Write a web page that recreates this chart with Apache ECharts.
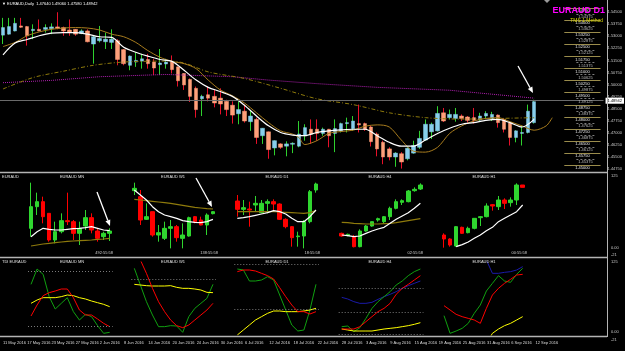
<!DOCTYPE html>
<html><head><meta charset="utf-8">
<script src="https://cdn.jsdelivr.net/npm/echarts@6/dist/echarts.min.js"></script>
<style>html,body{margin:0;padding:0;background:#000}#c{width:625px;height:351px}</style>
</head><body><div id="c"></div>
<script>
// ---------- DATA ----------
const xTickLabels = ['11 May 2016','17 May 2016','23 May 2016','27 May 2016','2 Jun 2016','8 Jun 2016','14 Jun 2016','20 Jun 2016','24 Jun 2016','30 Jun 2016','6 Jul 2016','12 Jul 2016','18 Jul 2016','22 Jul 2016','28 Jul 2016','3 Aug 2016','9 Aug 2016','15 Aug 2016','19 Aug 2016','25 Aug 2016','31 Aug 2016','6 Sep 2016','12 Sep 2016'];
// daily candles [open, close, low, high]
const mainCandles = [
[1.5307,1.5354,1.5252,1.5414],[1.5313,1.5360,1.5310,1.5414],[1.5333,1.5380,1.5330,1.5414],[1.5364,1.5356,1.5352,1.5414],
[1.5360,1.5303,1.5242,1.5364],[1.5335,1.5343,1.5282,1.5374],[1.5343,1.5333,1.5331,1.5404],[1.5343,1.5354,1.5323,1.5374],
[1.5347,1.5358,1.5313,1.5380],[1.5358,1.5349,1.5343,1.5449],[1.5354,1.5333,1.5303,1.5360],[1.5339,1.5327,1.5303,1.5404],
[1.5343,1.5313,1.5303,1.5345],[1.5317,1.5333,1.5313,1.5343],[1.5333,1.5266,1.5262,1.5343],[1.5252,1.5297,1.5130,1.5303],
[1.5272,1.5286,1.5262,1.5364],[1.5266,1.5282,1.5221,1.5323],[1.5262,1.5282,1.5221,1.5343],[1.5272,1.5156,1.5120,1.5282],
[1.5217,1.5130,1.5120,1.5221],[1.5120,1.5177,1.5089,1.5181],[1.5140,1.5150,1.5110,1.5201],[1.5146,1.5160,1.5099,1.5191],
[1.5156,1.5130,1.5099,1.5191],[1.5140,1.5103,1.5059,1.5160],[1.5124,1.5134,1.5059,1.5221],[1.5128,1.5140,1.5099,1.5160],
[1.5140,1.5093,1.5069,1.5181],[1.5110,1.5024,1.4988,1.5112],[1.5069,1.4998,1.4967,1.5071],[1.5032,1.4927,1.4892,1.5038],
[1.4977,1.4845,1.4795,1.4988],[1.4912,1.4927,1.4805,1.4937],[1.4937,1.4916,1.4896,1.4988],[1.4927,1.4886,1.4859,1.4967],
[1.4916,1.4880,1.4815,1.4977],[1.4896,1.4845,1.4805,1.4906],[1.4872,1.4811,1.4758,1.4896],[1.4819,1.4845,1.4754,1.4896],
[1.4835,1.4774,1.4764,1.4876],[1.4770,1.4805,1.4713,1.4835],[1.4784,1.4672,1.4632,1.4795],[1.4683,1.4729,1.4632,1.4731],
[1.4707,1.4597,1.4540,1.4709],[1.4607,1.4652,1.4561,1.4654],[1.4632,1.4611,1.4601,1.4636],[1.4618,1.4632,1.4555,1.4648],
[1.4630,1.4636,1.4575,1.4642],[1.4618,1.4693,1.4611,1.4774],[1.4683,1.4733,1.4652,1.4754],[1.4723,1.4693,1.4632,1.4784],
[1.4723,1.4697,1.4652,1.4784],[1.4697,1.4723,1.4683,1.4733],[1.4723,1.4683,1.4611,1.4725],[1.4697,1.4727,1.4581,1.4784],
[1.4713,1.4758,1.4703,1.4764],[1.4758,1.4764,1.4703,1.4795],[1.4727,1.4774,1.4713,1.4805],[1.4758,1.4750,1.4703,1.4876],
[1.4758,1.4723,1.4713,1.4764],[1.4737,1.4646,1.4616,1.4744],[1.4693,1.4601,1.4555,1.4703],[1.4642,1.4551,1.4506,1.4652],
[1.4601,1.4551,1.4530,1.4611],[1.4551,1.4575,1.4490,1.4581],[1.4571,1.4520,1.4479,1.4581],[1.4540,1.4605,1.4530,1.4611],
[1.4575,1.4622,1.4571,1.4652],[1.4611,1.4666,1.4601,1.4713],[1.4656,1.4754,1.4652,1.4784],[1.4707,1.4754,1.4662,1.4764],
[1.4713,1.4821,1.4709,1.4866],[1.4825,1.4774,1.4768,1.4855],[1.4795,1.4815,1.4784,1.4845],[1.4790,1.4815,1.4770,1.4855],
[1.4805,1.4790,1.4774,1.4815],[1.4799,1.4778,1.4764,1.4805],[1.4795,1.4778,1.4758,1.4855],[1.4780,1.4805,1.4770,1.4825],
[1.4805,1.4821,1.4790,1.4835],[1.4784,1.4815,1.4774,1.4831],[1.4811,1.4764,1.4733,1.4815],[1.4784,1.4723,1.4703,1.4790],
[1.4764,1.4672,1.4622,1.4774],[1.4672,1.4713,1.4642,1.4717],[1.4697,1.4703,1.4622,1.4744],[1.4703,1.4835,1.4697,1.4876],
[1.47640,1.48942,1.47580,1.49060]];
// moving averages, [barIndex, price]
const maFast = [[0,1.5185],[2,1.5258],[4,1.5280],[6,1.5303],[8,1.5319],[10,1.5323],[12,1.5323],[14,1.5313],[16,1.5297],[18,1.5293],[20,1.5232],[22,1.5201],[24,1.5177],[26,1.5156],[28,1.5144],[30,1.5089],[32,1.5028],[34,1.4983],[36,1.4957],[38,1.4927],[40,1.4872],[42,1.4805],[44,1.4744],[46,1.4703],[48,1.4687],[50,1.4683],[52,1.4703],[54,1.4713],[56,1.4719],[58,1.4723],[60,1.4723],[62,1.4683],[64,1.4642],[66,1.4618],[68,1.4618],[70,1.4656],[72,1.4697],[74,1.4729],[76,1.4754],[78,1.4764],[80,1.4778],[82,1.4784],[84,1.4764],[86,1.4737],[88,1.4784]];
const maMid = [[0,1.5236],[2,1.5262],[4,1.5303],[6,1.5327],[8,1.5343],[10,1.5351],[12,1.5354],[14,1.5351],[16,1.5339],[18,1.5313],[20,1.5297],[22,1.5262],[24,1.5211],[26,1.5170],[28,1.5144],[30,1.5130],[32,1.5099],[34,1.5028],[36,1.4967],[38,1.4931],[40,1.4886],[42,1.4825],[44,1.4764],[46,1.4713],[48,1.4693],[49,1.4672],[50,1.4628],[52,1.4652],[54,1.4697],[56,1.4709],[58,1.4717],[60,1.4742],[62,1.4750],[64,1.4737],[66,1.4656],[68,1.4587],[70,1.4581],[72,1.4611],[74,1.4697],[76,1.4744],[78,1.4774],[80,1.4790],[82,1.4795],[84,1.4770],[86,1.4744],[88,1.4717],[90,1.4744],[91,1.4795]];
const maSlow = [[0,1.4973],[5,1.5044],[10,1.5083],[15,1.5120],[20,1.5140],[27,1.5146],[30,1.5134],[34,1.5079],[40,1.5038],[46,1.4977],[52,1.4912],[58,1.4876],[64,1.4825],[70,1.4795],[76,1.4786],[82,1.4790],[88,1.4795]];
const maLong = [[0,1.5012],[8,1.5026],[16,1.5049],[27,1.5063],[38,1.5049],[44,1.5028],[52,1.5006],[62,1.4983],[74,1.4965],[82,1.4937],[88,1.4916]];
const bidPrice = 1.48942;
const tmsLevels = [1.5475,1.54,1.5325,1.525,1.5175,1.51,1.5025,1.495,1.4875,1.48,1.4725,1.465,1.4575,1.45];
const tmsMidLevels = [1.54375,1.53625,1.52875,1.52125,1.51375,1.50625,1.49875,1.49125,1.48375,1.47625,1.46875,1.46125,1.45375];

// mini multi-timeframe candles [open, close, low, high]
const mnCandles = [[1.5125,1.545,1.5,1.581],[1.545,1.5525,1.5325,1.566],[1.5525,1.53,1.52,1.56],[1.535,1.495,1.4925,1.535],[1.495,1.5075,1.49,1.5225],[1.5075,1.524,1.505,1.535],[1.524,1.5225,1.5175,1.566],[1.5225,1.505,1.495,1.525],[1.505,1.5125,1.4875,1.5225],[1.516,1.5285,1.51,1.54],[1.5285,1.51,1.505,1.535],[1.5085,1.4975,1.4925,1.5125],[1.5,1.505,1.495,1.5075],[1.505,1.5085,1.4935,1.5125]];
const mnFast = [1.5,1.5075,1.5125,1.511,1.51,1.51,1.511,1.512,1.5125,1.5135,1.515,1.5125,1.51,1.509];
const mnSlow = [1.486,1.4875,1.489,1.49,1.491,1.492,1.493,1.4935,1.494,1.4945,1.495,1.496,1.4965,1.4975];
const w1Candles = [[1.569,1.5725,1.5625,1.581],[1.56,1.525,1.5175,1.57],[1.526,1.53,1.525,1.55],[1.5375,1.5025,1.5,1.5375],[1.5025,1.506,1.4925,1.5175],[1.4975,1.5125,1.495,1.5225],[1.5125,1.515,1.4825,1.525],[1.515,1.4985,1.4925,1.5175],[1.4975,1.5025,1.4825,1.52],[1.501,1.5285,1.5,1.53],[1.53,1.5225,1.52,1.531],[1.525,1.5175,1.517,1.53],[1.5175,1.5325,1.5025,1.535],[1.5345,1.5375,1.5335,1.5385]];
const w1Fast = [1.57,1.5625,1.555,1.545,1.5375,1.5325,1.53,1.5275,1.524,1.5225,1.5215,1.521,1.5225,1.526];
const w1Slow = [1.556,1.555,1.554,1.553,1.552,1.551,1.55,1.5485,1.547,1.5455,1.544,1.543,1.542,1.5415];
const d1Candles = [[1.5535,1.541,1.53,1.5625],[1.541,1.5435,1.5325,1.555],[1.5415,1.54,1.515,1.5525],[1.5475,1.55,1.5375,1.561],[1.536,1.55,1.535,1.555],[1.55,1.5525,1.535,1.556],[1.5525,1.549,1.5375,1.556],[1.549,1.526,1.525,1.55],[1.526,1.515,1.5125,1.5275],[1.515,1.4985,1.485,1.516],[1.5,1.501,1.485,1.5075],[1.501,1.5225,1.4825,1.525],[1.5225,1.5675,1.52,1.57],[1.57,1.579,1.566,1.581]];
const d1Fast = [1.5275,1.5285,1.53,1.532,1.534,1.536,1.539,1.5375,1.534,1.5275,1.5225,1.5225,1.53,1.54];
const d1Slow = [1.5375,1.5375,1.5375,1.5375,1.5375,1.5375,1.5375,1.537,1.5365,1.536,1.5355,1.535,1.536,1.539];
const h4Candles = [[1.505,1.501,1.5,1.506],[1.5015,1.5035,1.5005,1.5045],[1.5,1.485,1.484,1.5025],[1.485,1.5085,1.484,1.511],[1.5085,1.516,1.5075,1.5175],[1.516,1.5225,1.515,1.5225],[1.525,1.527,1.5225,1.5285],[1.5225,1.53,1.52,1.531],[1.53,1.5425,1.525,1.545],[1.5425,1.5525,1.541,1.556],[1.5515,1.554,1.5475,1.556],[1.5525,1.5685,1.5515,1.57],[1.569,1.571,1.5675,1.574],[1.5715,1.5775,1.57,1.58]];
const h4Fast = [1.5025,1.5015,1.5,1.501,1.505,1.5085,1.5115,1.514,1.52,1.526,1.531,1.536,1.5425,1.55];
const h4Slow = [1.5215,1.521,1.52,1.5195,1.519,1.519,1.519,1.5195,1.52,1.521,1.5225,1.524,1.5255,1.527];
const h1Candles = [[1.5025,1.4965,1.4835,1.505],[1.4965,1.4875,1.485,1.4975],[1.486,1.515,1.485,1.516],[1.514,1.505,1.504,1.515],[1.506,1.5125,1.505,1.515],[1.5125,1.5275,1.511,1.5275],[1.5285,1.53,1.516,1.531],[1.53,1.546,1.529,1.55],[1.548,1.546,1.539,1.549],[1.545,1.555,1.54,1.561],[1.555,1.55,1.5415,1.5575],[1.551,1.555,1.545,1.559],[1.555,1.5775,1.5475,1.58],[1.5775,1.574,1.574,1.5775]];
const h1Fast = [null,null,1.485,1.488,1.492,1.4975,1.5025,1.509,1.514,1.5225,1.5275,1.5325,1.5375,1.5475];
const h1Slow = [];

// TDI lines per timeframe
const mnGreen = [64.8,83.2,76.8,50,35.2,42,48.8,32,22,28.8,26,15.2,6,7.2];
const mnRed = [26.8,40,51.2,54.8,56.8,59.2,59.2,48.8,34,28,28,23.2,18,14];
const mnYellow = [42,46,48.8,48.8,48.8,50,52,51.2,48.8,47.2,44.8,42.8,40.8,38];
const mnBlue = [];
const w1Green = [84,64,44,28,14,14,15.2,14.8,7.2,26,36,42,48,64.8];
const w1Red = [102,94,78,60,44,32,22,15.2,12.8,16,22,28,34,42];
const w1Yellow = [64.8,64,63.2,62.8,62.8,62.8,63.2,61.2,60,60,59.2,58,55.2,54.8];
const w1Blue = [];
const d1Green = [83.2,82,68.8,68.8,70,74,70,52,34,16,8.8,10,34,64.8];
const d1Red = [80,82,82,80.8,78,75.2,71.2,60.8,50,40,32,32,29.2,32];
const d1Yellow = [4,10,16,22,26,30,32.8,32.8,32,32,32,32.8,34,36];
const d1Blue = [];
const h4Green = [14,14.8,8,12.8,24,36,44,50,56,64,68.8,75.2,80,83.2];
const h4Red = [11.2,11.2,11.2,14,20,26,32,36,42,52.8,60,64.8,70,75.2];
const h4Yellow = [11.2,10,8.8,8.8,8.8,8.8,10,11.2,12,12.8,14,15.2,16.8,18.8];
const h4Blue = [49.2,47.2,44,42,42,43.2,46.8,50,52.8,56,60,63.2,66,68.8];
const h1Green = [27.2,6,8.8,12,18,30,40,56.8,66,75.2,68.8,67.2,76.8,84];
const h1Red = [39.2,34,28.8,26,24,22,18,36,52,60,66,70.8,76,76.8];
const h1Yellow = [null,null,null,null,null,null,null,-6,6,11.2,15.2,18,22,26];
const h1Blue = [null,null,null,null,null,null,null,94,78,78,79.2,80,82,86];
const mnLevels = [80.8,14], w1Levels = [70.8], d1Levels = [88.8,35.2], h4Levels = [60,31.2,5], h1Levels = [];
const tfNames = ['EURAUD MN','EURAUD W1','EURAUD D1','EURAUD H4','EURAUD H1'];
const tfTimers = ['492:55:58','138:55:58','18:55:58','02:55:58','00:55:58'];
const subScaleLabels = ['125','0.00','-21'];

// ---------- BUILD ----------
const months=['Jan','Feb','Mar','Apr','May','Jun','Jul','Aug','Sep','Oct','Nov','Dec'];
const categories=[];
{let d=new Date(2016,4,11);while(categories.length<100){const w=d.getDay();if(w!==0&&w!==6)categories.push(d.getDate()+' '+months[d.getMonth()]+' '+d.getFullYear());d.setDate(d.getDate()+1);}}

const FONT='Liberation Sans';
const miniLefts=[28,131.3,234.3,338.7,441];
const miniW=84.7;
const miniCats=Array.from({length:14},(_,i)=>String(i));

const grids=[{left:-1,width:606,top:-3.2,height:184.5}];
const xAxes=[{type:'category',gridIndex:0,data:categories,show:false}];
const yAxes=[{type:'value',gridIndex:0,position:'right',min:1.44,max:1.5525,interval:0.0075,
  splitLine:{show:false},axisLine:{show:false},axisTick:{show:false},
  axisLabel:{fontSize:4,fontFamily:FONT,color:'#c8c8c8',margin:4,showMinLabel:false,showMaxLabel:false,formatter:v=>v.toFixed(5)}}];
const series=[];

// TMS & bid markLines
const mlData=[];
tmsLevels.forEach(l=>mlData.push([{coord:[93,l],lineStyle:{color:'#9a8c4c',width:1,type:'solid'},
  label:{show:true,position:'insideMiddleBottom',formatter:l.toFixed(5),color:'#e8e8e8',fontSize:4,fontFamily:FONT,distance:1}},{coord:[99,l]}]));
tmsMidLevels.forEach(l=>mlData.push([{coord:[95,l],lineStyle:{color:'#cfcfcf',width:0.6,type:[2,2]},
  label:{show:true,position:'insideMiddleBottom',formatter:l.toFixed(5),color:'#bdbdbd',fontSize:4,fontFamily:FONT,distance:1}},{coord:[98,l]}]));
mlData.push({yAxis:bidPrice,lineStyle:{color:'#6a6a6a',width:1,type:'solid'},
  label:{show:true,position:'end',formatter:bidPrice.toFixed(5),backgroundColor:'#fff',color:'#000',fontSize:4,fontFamily:FONT,padding:[1,2],distance:2}});

series.push({type:'candlestick',xAxisIndex:0,yAxisIndex:0,data:mainCandles,barWidth:1,silent:true,
  itemStyle:{color:'#2ed12e',color0:'#e8102a',borderColor:'#2ed12e',borderColor0:'#e8102a',borderWidth:1},
  markLine:{symbol:'none',silent:true,animation:false,data:mlData}});
series.push({type:'candlestick',xAxisIndex:0,yAxisIndex:0,barWidth:4,silent:true,
  data:mainCandles.map(c=>[c[0],c[1],Math.min(c[0],c[1]),Math.max(c[0],c[1])]),
  itemStyle:{color:'#87ceeb',color0:'#ffa07a',borderColor:'#87ceeb',borderColor0:'#ffa07a',borderWidth:0.5}});
const lineBase={type:'line',xAxisIndex:0,yAxisIndex:0,showSymbol:false,symbol:'none',silent:true,connectNulls:true};
series.push(Object.assign({},lineBase,{data:maLong,lineStyle:{color:'#b21fb2',width:1,type:'dotted'}}));
series.push(Object.assign({},lineBase,{data:maSlow,smooth:0.3,lineStyle:{color:'#8e7a0c',width:1,type:[4,2,1,2]}}));
series.push(Object.assign({},lineBase,{data:maMid,smooth:0.3,lineStyle:{color:'#a87c1e',width:1}}));
series.push(Object.assign({},lineBase,{data:maFast,smooth:0.3,lineStyle:{color:'#ffffff',width:1.2}}));

// mini candle panels
const miniC=[mnCandles,w1Candles,d1Candles,h4Candles,h1Candles];
const miniF=[mnFast,w1Fast,d1Fast,h4Fast,h1Fast];
const miniS=[mnSlow,w1Slow,d1Slow,h4Slow,h1Slow];
for(let k=0;k<5;k++){
  const gi=grids.length;
  grids.push({left:miniLefts[k],width:miniW,top:178,height:72});
  xAxes.push({type:'category',gridIndex:gi,data:miniCats,show:false});
  yAxes.push({type:'value',gridIndex:gi,min:1.48,max:1.588,show:false});
  series.push({type:'candlestick',xAxisIndex:gi,yAxisIndex:gi,data:miniC[k],barWidth:4,silent:true,
    itemStyle:{color:'#2fd62f',color0:'#ff0000',borderColor:'#2fd62f',borderColor0:'#ff0000',borderWidth:1}});
  if(miniS[k].length) series.push({type:'line',xAxisIndex:gi,yAxisIndex:gi,data:miniS[k],showSymbol:false,silent:true,lineStyle:{color:'#8e7a0c',width:1.2}});
  series.push({type:'line',xAxisIndex:gi,yAxisIndex:gi,data:miniF[k],showSymbol:false,silent:true,connectNulls:true,lineStyle:{color:'#ffffff',width:1.2}});
}
// TDI panels
const tG=[mnGreen,w1Green,d1Green,h4Green,h1Green],tR=[mnRed,w1Red,d1Red,h4Red,h1Red],
      tY=[mnYellow,w1Yellow,d1Yellow,h4Yellow,h1Yellow],tB=[mnBlue,w1Blue,d1Blue,h4Blue,h1Blue],
      tL=[mnLevels,w1Levels,d1Levels,h4Levels,h1Levels];
for(let k=0;k<5;k++){
  const gi=grids.length;
  grids.push({left:miniLefts[k],width:miniW,top:262,height:73});
  xAxes.push({type:'category',gridIndex:gi,data:miniCats,show:false});
  yAxes.push({type:'value',gridIndex:gi,min:4,max:91.6,show:false});
  const ln=(d,c)=>({type:'line',xAxisIndex:gi,yAxisIndex:gi,data:d,showSymbol:false,silent:true,lineStyle:{color:c,width:1}});
  if(tB[k].length) series.push(ln(tB[k],'#1a1aa8'));
  const g=ln(tG[k],'#10a010');
  g.markLine={symbol:'none',silent:true,animation:false,label:{show:false},lineStyle:{color:'#7a7a7a',type:[1,2],width:1},data:tL[k].map(v=>({yAxis:v}))};
  series.push(g);
  series.push(ln(tY[k],'#ffff00'));
  series.push(ln(tR[k],'#ff0000'));
}
// bottom date axis
grids.push({left:-1,width:606,top:336,height:1});
xAxes.push({type:'category',gridIndex:grids.length-1,data:categories,axisLine:{show:false},axisTick:{show:false},
  axisLabel:{interval:0,align:'left',fontSize:4,fontFamily:FONT,color:'#dcdcdc',margin:4,
    formatter:(v,i)=>(i%4===0&&i/4<xTickLabels.length)?xTickLabels[i/4]:''}});
yAxes.push({type:'value',gridIndex:grids.length-1,show:false,min:0,max:1});

// ---------- annotations ----------
const gfx=[];
const line=(x1,y1,x2,y2,c,w)=>gfx.push({type:'line',silent:true,z:100,shape:{x1,y1,x2,y2},style:{stroke:c,lineWidth:w||1}});
const text=(x,y,t,o)=>gfx.push({type:'text',silent:true,z:101,x,y,style:Object.assign({text:t,fill:'#e0e0e0',fontSize:4,fontFamily:FONT,align:'left',verticalAlign:'top'},o||{})});
function arrow(x1,y1,x2,y2){const dx=x2-x1,dy=y2-y1,L=Math.hypot(dx,dy),ux=dx/L,uy=dy/L,hl=6,hw=2.6,bx=x2-ux*hl,by=y2-uy*hl;
  line(x1,y1,bx,by,'#ffffff',1.3);
  gfx.push({type:'polygon',silent:true,z:101,shape:{points:[[x2,y2],[bx-uy*hw,by+ux*hw],[bx+uy*hw,by-ux*hw]]},style:{fill:'#ffffff'}});}
line(0,172.5,607,172.5,'#b4b4b4',1.5);
line(0,257.5,607,257.5,'#b4b4b4',1.5);
line(0,336.5,607,336.5,'#b4b4b4',1.5);
line(607.5,0,607.5,337,'#b4b4b4',1);
const seps=[19.5,123,226,328.5,432,535.5];
seps.forEach(x=>{line(x,178,248,'#18c018',1.5);line(x,265,333,'#0c900c',1.5);});
const titleX=[72,173,277,380,484];
const timerX=[113,218,320,423,527];
for(let k=0;k<5;k++){
  text(titleX[k],174.5,tfNames[k],{align:'center'});
  text(titleX[k],259.5,tfNames[k],{align:'center'});
  text(timerX[k],251,tfTimers[k],{align:'right',fill:'#cfcfcf'});
}
text(2,174.5,'EURAUD');
text(2,259.5,'TDI EURAUD');
text(2,1.5,'\u25BC EURAUD,Daily  1.47640 1.49060 1.47580 1.48942',{fill:'#ffffff'});
text(605,6,'EURAUD D1',{align:'right',fontSize:9,fontWeight:'bold',fill:'#ff00ff'});
text(603,18.5,'TMS 1 Method',{align:'right',fontSize:5,fill:'#d2d200'});
[[174,0],[246,1],[253,2],[259.5,0],[330,1],[338,2]].forEach(([y,i])=>text(611,y,subScaleLabels[i],{fill:'#c8c8c8'}));
gfx.push({type:'polygon',silent:true,z:101,shape:{points:[[544,0],[550,0],[547,3]]},style:{fill:'#9a9a9a'}});
arrow(518,66,533,93);
arrow(97,192,110,226);
arrow(196,178,212,207);

const chart=echarts.init(document.getElementById('c'),null,{renderer:'canvas'});
chart.setOption({backgroundColor:'#000',animation:false,grid:grids,xAxis:xAxes,yAxis:yAxes,series:series,graphic:gfx});
</script></body></html>
